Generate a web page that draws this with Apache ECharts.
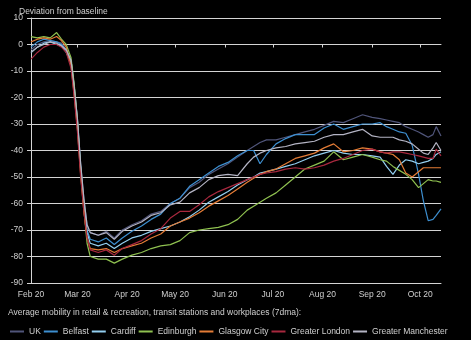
<!DOCTYPE html>
<html>
<head>
<meta charset="utf-8">
<script src="https://cdn.jsdelivr.net/npm/echarts@6/dist/echarts.min.js"></script>
<style>
html,body{margin:0;padding:0;background:#000;}
#chart{width:471px;height:340px;}
</style>
</head>
<body>
<div id="chart"></div>
<script>
const dates = ['2020-02-01','2020-02-05','2020-02-09','2020-02-13','2020-02-17','2020-02-20','2020-02-23','2020-02-26','2020-02-28','2020-03-01','2020-03-03','2020-03-05','2020-03-07','2020-03-09','2020-03-14','2020-03-19','2020-03-24','2020-03-29','2020-04-04','2020-04-10','2020-04-16','2020-04-22','2020-04-28','2020-05-04','2020-05-10','2020-05-16','2020-05-22','2020-05-28','2020-06-03','2020-06-09','2020-06-15','2020-06-19','2020-06-23','2020-06-27','2020-07-03','2020-07-09','2020-07-15','2020-07-21','2020-07-27','2020-08-02','2020-08-08','2020-08-14','2020-08-20','2020-08-26','2020-09-01','2020-09-06','2020-09-10','2020-09-14','2020-09-18','2020-09-22','2020-09-26','2020-09-30','2020-10-03','2020-10-06','2020-10-09','2020-10-11','2020-10-14'];

const uk =         [-2,0,1,1.5,1,0.5,-2,-6,-16,-28,-45,-58,-68,-71,-72,-70.5,-73,-70,-68,-66.5,-64,-63,-60,-58,-54,-52,-49,-47,-45,-42.5,-40,-38.5,-37,-36,-36,-35,-34,-33,-32,-30.5,-29,-29.5,-28,-26.5,-27.5,-28,-28.5,-29,-29.5,-31,-32,-33,-34,-35,-34,-31,-34.5];
const belfast =    [-1,1,2,1.5,1,0,-2,-6,-16,-29,-46,-60,-70,-73.5,-74.5,-73,-75.5,-73,-70.5,-68.5,-66,-64,-60,-58,-53.5,-51,-48.5,-46,-44.5,-42,-40,-40,-45,-41.5,-37.5,-35.5,-34,-34,-34,-31.5,-30,-32,-31,-30,-30,-29.5,-31,-32,-33,-33.5,-38,-49,-59,-66.5,-66,-64.5,-62];
const cardiff =    [-3,-1,0.5,1,0,-0.5,-3,-7,-17,-30,-47,-61,-71,-75,-76,-75,-77,-75,-73,-72,-70.5,-69.5,-68.5,-67,-65,-62.5,-59.5,-57.5,-55.5,-53,-51,-50,-48.5,-48,-47,-46,-45,-43.5,-42,-41,-40,-41,-41.5,-41.5,-42,-42.5,-46,-49,-45.5,-43.5,-44,-45,-44.5,-44,-43,-41.5,-40.5];
const edinburgh =  [3,2.5,3,2.5,4.5,2,0,-5,-15,-29,-47,-62,-75,-80,-81,-81,-82.5,-81,-79.5,-78.5,-77,-76,-75.5,-74,-71,-70,-69.5,-69,-68,-66,-62.5,-61,-59.5,-58,-56,-53,-50,-47,-45.5,-44,-40.5,-43.5,-42.5,-41.5,-42.5,-43.5,-44,-46,-47.5,-49,-51,-54,-52.5,-51,-51.5,-51.5,-52];
const glasgow =    [1,2,2.5,2,3,1.5,-1,-8,-19,-32,-49,-63,-73,-77,-77.5,-77,-78.5,-77,-76,-75,-73,-71.5,-68.5,-67,-65.5,-63.5,-61,-59,-57,-54.5,-52,-50.5,-49,-48,-47,-45,-43,-42,-41,-39,-37.5,-40.5,-40,-39,-39.5,-40.5,-41,-41.5,-43.5,-48.5,-50,-48,-46.5,-46.5,-46.5,-46.5,-46.5];
const london =     [-5.5,-3,-1,0,0,-1,-3,-9,-20,-33,-50,-63,-73,-77.5,-78.5,-77.5,-79.5,-77,-75.5,-74,-71.5,-69.5,-65.5,-63,-63,-60.5,-57.5,-55.5,-54,-52.5,-51,-50,-49,-48.5,-48,-47,-46.5,-47,-46.5,-45.5,-44,-43,-41.5,-40,-39.5,-40.5,-41,-40.5,-40.5,-41,-41.5,-42,-42.5,-43,-43,-39.5,-42];
const manchester = [-3,-1,0,1,0.5,-0.5,-2,-6,-16,-28,-45,-58,-68,-71,-72,-71,-73.5,-70.5,-68.5,-67,-64.5,-63.5,-60.5,-59.5,-56,-54,-51,-49.5,-49,-49.5,-45,-42.5,-41,-40,-39,-38.5,-37.5,-37,-36.5,-35,-34,-34,-33,-32,-34.5,-35,-35,-35,-36,-36.5,-37.5,-39.5,-41,-41.5,-39,-37,-40];

const seriesNames = ['UK','Belfast','Cardiff','Edinburgh','Glasgow City','Greater London','Greater Manchester'];
const seriesValues = [uk, belfast, cardiff, edinburgh, glasgow, london, manchester];
const colors = ['#50557a','#3d8fd0','#93cff0','#8fc150','#e47c36','#a8283e','#b4b4c4'];
const monthTicks = ['2020-02-01','2020-03-01','2020-04-01','2020-05-01','2020-06-01','2020-07-01','2020-08-01','2020-09-01','2020-10-01'];
const monthTickLabels = ['Feb 20','Mar 20','Apr 20','May 20','Jun 20','Jul 20','Aug 20','Sep 20','Oct 20'];
const xStart = '2020-02-01';
const xEnd = '2020-10-14';
const yTitle = 'Deviation from baseline';
const footnote = 'Average mobility in retail & recreation, transit stations and workplaces (7dma):';

const DAY = 86400000;
function dayIndex(s){ const p = s.split('-').map(Number); const q = xStart.split('-').map(Number);
  return Math.round((Date.UTC(p[0], p[1]-1, p[2]) - Date.UTC(q[0], q[1]-1, q[2])) / DAY); }
const FONT = "'Liberation Sans',Arial,sans-serif";
const TXT = '#cfcfcf';
const GRID = '#d4d4d4';
const tickVals = monthTicks.map(dayIndex);
const labelMap = {};
tickVals.forEach(function(v, i){ labelMap[v] = monthTickLabels[i]; });

const chart = echarts.init(document.getElementById('chart'), null, {renderer:'canvas'});
chart.setOption({
  backgroundColor: '#000',
  animation: false,
  color: colors,
  textStyle: {fontFamily: FONT},
  grid: {left: 31, right: 30, top: 18, bottom: 57, containLabel: false},
  title: {text: yTitle, left: 14, top: 2, textStyle: {color: TXT, fontSize: 8.5, fontWeight: 'normal', fontFamily: FONT}},
  graphic: [{type: 'text', left: 8, top: 308, style: {text: footnote, fill: TXT, font: '8.5px ' + FONT}}],
  legend: {
    left: 10, top: 327, padding: 0, itemWidth: 14, itemHeight: 2, itemGap: 3, icon: 'rect',
    textStyle: {color: TXT, fontSize: 8.5, fontFamily: FONT},
    data: seriesNames
  },
  xAxis: [{
    type: 'value', min: 0, max: dayIndex(xEnd),
    axisLine: {onZero: false, lineStyle: {color: GRID, width: 1}},
    axisTick: {show: false},
    splitLine: {show: false},
    axisLabel: {color: TXT, fontSize: 8.5, fontFamily: FONT, margin: 7, customValues: tickVals,
      formatter: function(v){ return labelMap[v] || ''; }}
  },{
    type: 'value', min: 0, max: dayIndex(xEnd), position: 'bottom',
    axisLine: {onZero: true, lineStyle: {color: GRID, width: 1}},
    axisTick: {show: true, length: 3, inside: false, customValues: tickVals, lineStyle: {color: GRID}},
    axisLabel: {show: false},
    splitLine: {show: false}
  }],
  yAxis: {
    type: 'value', min: -90, max: 10, interval: 10,
    axisLine: {show: true, onZero: false, lineStyle: {color: GRID, width: 1}},
    axisTick: {show: true, length: 4, lineStyle: {color: GRID}},
    splitLine: {show: true, lineStyle: {color: GRID, width: 1}},
    axisLabel: {color: TXT, fontSize: 8.5, fontFamily: FONT, margin: 8}
  },
  series: seriesNames.map(function(name, i){
    return {
      name: name, type: 'line', xAxisIndex: 0, showSymbol: false, symbol: 'none',
      lineStyle: {width: 1.2, color: colors[i]},
      data: dates.map(function(d, j){ return [dayIndex(d), seriesValues[i][j]]; })
    };
  })
});
</script>
</body>
</html>
